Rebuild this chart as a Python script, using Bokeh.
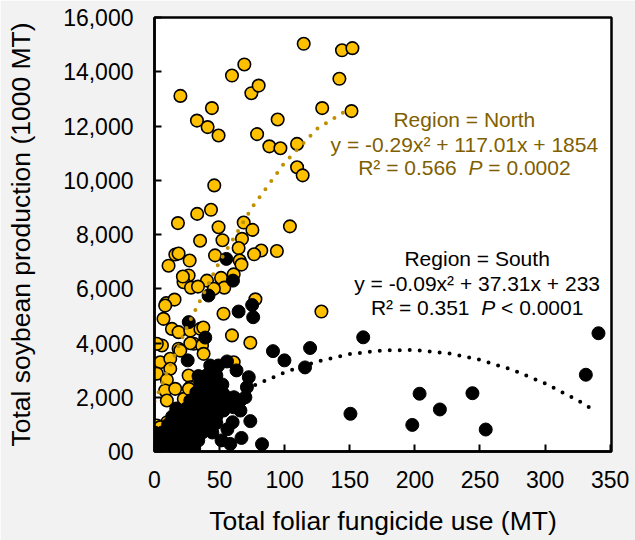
from bokeh.plotting import figure
from bokeh.models import Label, FixedTicker
from bokeh.embed import file_html
from bokeh.resources import INLINE

# ---------------- data ----------------
north_x = [114.6, 144, 152, 142, 128.8, 151.3, 19.9, 44.1, 32.6, 40.8, 49.2, 59.5, 69, 74.4, 80,
           78.8, 94.6, 88.2, 96.7, 109.5, 109.5, 113.8, 45.9, 18, 32.8, 43.4, 49.2, 35, 52.2, 68.5,
           75.2, 67.2, 64.6, 82, 76.5, 104, 94, 16, 18.5, 27, 10.8, 46.5, 65.4, 26.2, 22.3,
           40.3, 51.1, 60.8, 28, 33.4, 53.6, 9, 15.4, 8.2, 6.9, 13.4, 18.5, 27.5, 30.1, 36.5,
           37.7, 35.2, 5.7, 4.4, 18.5, 12.1, 12.1, 1.8, 9.5, 8.2, 15.9, 26.2, 27.5, 25, 9.5,
           1.8, 59.5, 73.6, 53, 37.5, 128.2, 60.8, 77.5, 1.8, 19.8, 27.5, 21.8, 66.8, 45.6,
           9.8, 4.4, 22.5, 26.4]
north_y = [15030, 14790, 14870, 13740, 12660, 12550, 13110, 12660, 12200, 11960, 11650, 13860, 14270, 13210, 13490,
           11700, 12240, 11250, 11180, 11340, 10480, 10180, 9810, 8420, 8760, 8910, 8270, 7770, 7790, 8440,
           8170, 7840, 7500, 7410, 7270, 8300, 7390, 7260, 7300, 7040, 6850, 7230, 7040, 6490, 6240,
           6300, 6400, 6530, 6040, 6080, 6040, 5470, 5600, 5380, 4890, 4520, 4400, 4460, 3970, 3910,
           3600, 4520, 3910, 3290, 3790, 3420, 3050, 2870, 2640, 2250, 2310, 2800, 2370, 1940, 1880,
           960, 4280, 4010, 5080, 4570, 5160, 3290, 5610, 3970, 3720, 3990, 6450, 6890, 6000,
           1080, 900, 1940, 2310]

south_x = [160.3, 119.5, 115.6, 150.5, 203.6, 219.2, 198, 244.2, 254.4, 331.3, 341, 91, 99.8,
           64.6, 75, 75.8, 55.7, 63, 46.7, 72.4, 71, 73.6, 60, 66.8, 82.6, 51.5, 58.2, 33.8, 39,
           26.3, 66, 60.8, 55.7, 50.5, 42.8, 53, 48, 37.7, 25.5, 61, 69.8, 66, 55.2, 60.3, 41.5,
           0.5, 5.9, 12, 18.2, 24.4, 30.5,
           2.8, 9, 15.2, 21.3, 27.5, 33.6,
           0, 5.9, 12, 18.2, 24.4, 30.5, 36.7,
           10.5, 18.2, 25.9, 32.1, 38.2,
           13.6, 21.3, 29, 35.2, 41.3, 47.5,
           16.7, 24.4, 32.1, 38.2, 44.4, 50.5,
           27.5, 35.2, 41.3, 47.5, 53.6,
           32.1, 39.8, 45.9, 52.1,
           35.2, 44.4, 52.1,
           39.8, 47.5,
           42.8, 49,
           44.4, 47.5, 56]
south_y = [4210, 3815, 3100, 1390, 2130, 1550, 980, 2150, 810, 2830, 4360, 3700, 3360,
           5160, 5400, 4950, 3320, 2990, 2960, 2740, 2370, 1120, 1080, 500, 270, 410, 280, 2780, 4200,
           4770, 1880, 1630, 2000, 2250, 2500, 1510, 1390, 1880, 3360, 2000, 2000, 1510, 7100, 6300, 5750,
           110, 110, 110, 110, 110, 110,
           406, 406, 406, 406, 406, 406,
           700, 700, 700, 700, 700, 700, 700,
           995, 995, 995, 995, 995,
           1290, 1290, 1290, 1290, 1290, 1290,
           1585, 1585, 1585, 1585, 1585, 1585,
           1880, 1880, 1880, 1880, 1880,
           2175, 2175, 2175, 2175,
           2470, 2470, 2470,
           2800, 2800,
           3170, 3170,
           700, 1050, 820]

north_trend_x = [0, 25, 50, 75, 100, 125, 150]
north_trend_y = [1850, 4600, 7000, 9000, 10650, 11900, 12650]
south_trend_x = [0, 25, 50, 75, 100, 125, 150, 175, 200, 225, 250, 275, 300, 325, 340]
south_trend_y = [60, 970, 1750, 2400, 2920, 3320, 3590, 3730, 3740, 3625, 3380, 3010, 2510, 1890, 1450]

x_ticks = [0, 50, 100, 150, 200, 250, 300, 350]
y_ticks = [0, 2000, 4000, 6000, 8000, 10000, 12000, 14000, 16000]
y_tick_labels = ["00", "2,000", "4,000", "6,000", "8,000", "10,000", "12,000", "14,000", "16,000"]

x_title = "Total foliar fungicide use (MT)"
y_title = "Total soybean production (1000 MT)"
north_lines = ["Region = North", "y = -0.29x\u00b2 + 117.01x + 1854"]
north_stat = ["R\u00b2 = 0.566\u00a0\u00a0", "P", "\u00a0= 0.0002"]
south_lines = ["Region = South", "y = -0.09x\u00b2 + 37.31x + 233"]
south_stat = ["R\u00b2 = 0.351\u00a0\u00a0", "P", "\u00a0< 0.0001"]
panel_letter = "C"

# ---------------- style ----------------
FONT = "Liberation Sans"
BG = "#f2f2f2"
GOLD = "#FFC000"
GOLD_LINE = "#BF9000"
GOLD_TEXT = "#7F6000"

p = figure(width=635, height=540, x_range=(0, 351), y_range=(0, 16000),
           output_backend="svg", toolbar_location=None,
           background_fill_color="white", border_fill_color=BG,
           min_border_left=154, min_border_right=24, min_border_top=17, min_border_bottom=89)
p.grid.visible = False
p.outline_line_color = "black"
p.outline_line_width = 2.5

for ax in (p.xaxis[0], p.yaxis[0]):
    ax.axis_line_width = 2.5
    ax.axis_line_color = "black"
    ax.major_tick_in = 7
    ax.major_tick_out = 0
    ax.major_tick_line_width = 2
    ax.minor_tick_line_color = None
    ax.major_label_text_font = FONT
    ax.major_label_text_font_size = "23px"
    ax.major_label_text_color = "black"
    ax.axis_label_text_font = FONT
    ax.axis_label_text_font_size = "26.5px"
    ax.axis_label_text_font_style = "normal"
    ax.axis_label_text_color = "black"

p.xaxis.ticker = FixedTicker(ticks=x_ticks)
p.yaxis.ticker = FixedTicker(ticks=y_ticks)
p.yaxis.major_label_overrides = {t: s for t, s in zip(y_ticks, y_tick_labels)}
p.xaxis.axis_label = x_title
p.yaxis.axis_label = y_title
p.xaxis.major_label_standoff = 19
p.yaxis.major_label_standoff = 21
p.xaxis.axis_label_standoff = 15
p.yaxis.axis_label_standoff = 24

p.scatter(north_x, north_y, size=12.5, fill_color=GOLD, line_color="black", line_width=1.6)
p.scatter(south_x, south_y, size=13, fill_color="black", line_color="black", line_width=1)
p.line(north_trend_x, north_trend_y, line_color=GOLD_LINE, line_width=4, line_dash="0 10", line_cap="round")
p.line(south_trend_x, south_trend_y, line_color="black", line_width=4, line_dash="0 10", line_cap="round")

# Arial / Liberation Sans advance widths (per 1000 em)
W = {' ': 278, '\u00a0': 278, 'R': 722, '\u00b2': 333, '=': 584, '.': 278, 'P': 667, '<': 584}
for d in "0123456789":
    W[d] = 556


def tw(s, size):
    return sum(W[c] for c in s) * size / 1000.0


ANN = 21


def block(cx, ys, lines, stat, color):
    for txt, yy in zip(lines, ys[:2]):
        p.add_layout(Label(x=cx, y=yy, text=txt, text_align="center", text_baseline="alphabetic",
                           text_font=FONT, text_font_size=f"{ANN}px", text_color=color))
    total = sum(tw(s, ANN) for s in stat)
    off = -total / 2
    for i, s in enumerate(stat):
        p.add_layout(Label(x=cx, y=ys[2], x_offset=off, text=s, text_align="left",
                           text_baseline="alphabetic", text_font=FONT, text_font_size=f"{ANN}px",
                           text_font_style="italic" if i == 1 else "normal", text_color=color))
        off += tw(s, ANN)


block(238, [12240, 11320, 10480], north_lines, north_stat, GOLD_TEXT)
block(247.8, [7105, 6183, 5320], south_lines, south_stat, "black")

# panel letter, partly below the bottom edge (screen units are frame-relative)
p.add_layout(Label(x=-144, y=-70, x_units="screen", y_units="screen", text=panel_letter,
                   text_align="left", text_baseline="top",
                   text_font=FONT, text_font_size="33px", text_font_style="bold", text_color="black"))

html = file_html(p, INLINE)
html = html.replace("<body>", '<body style="background-color:%s;">' % BG, 1)
open("out.html", "w").write(html)
